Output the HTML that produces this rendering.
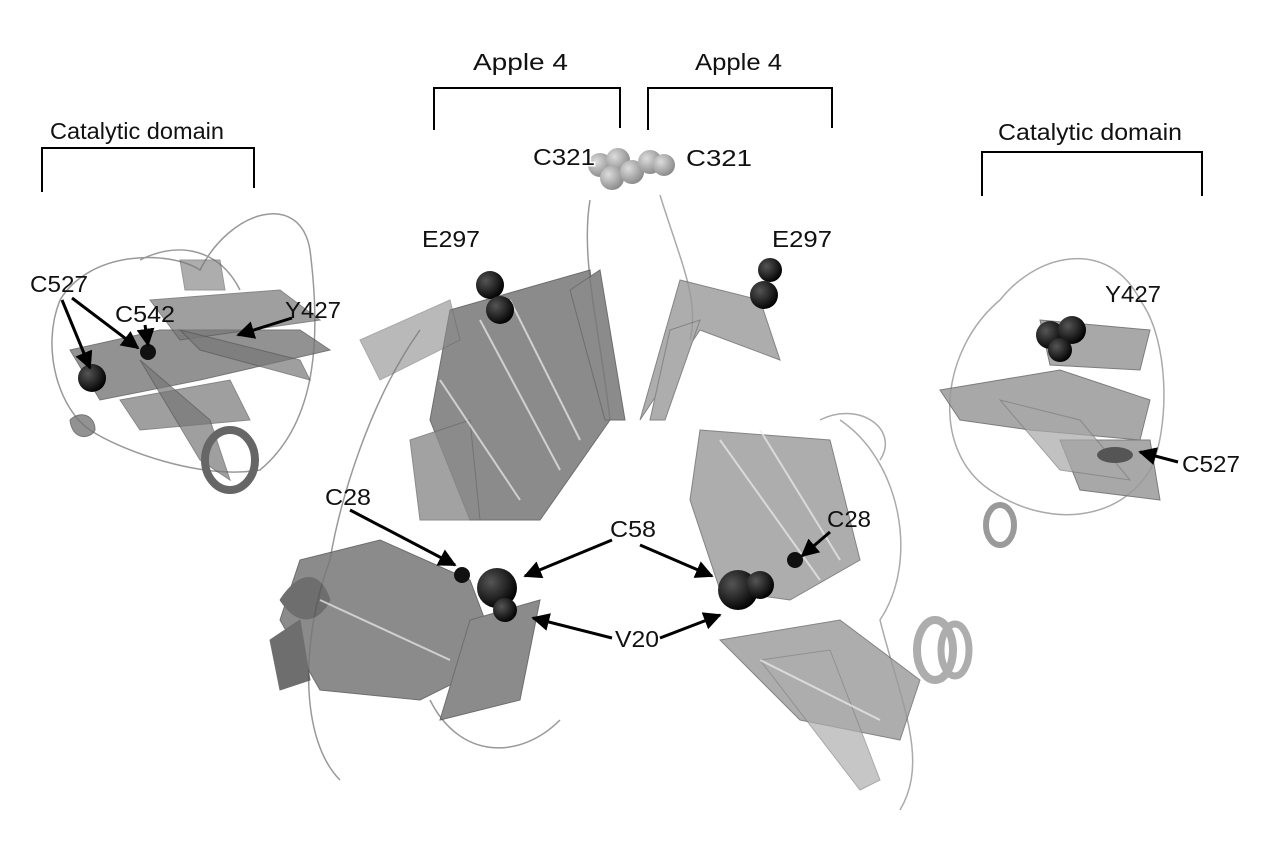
<!DOCTYPE html>
<html><head><meta charset="utf-8"><style>
html,body{margin:0;padding:0;background:#fff;}
svg{display:block;}
text{font-family:"Liberation Sans",sans-serif;font-size:23px;fill:#111;}
</style></head><body>
<svg width="1280" height="846" viewBox="0 0 1280 846" xmlns="http://www.w3.org/2000/svg">
<defs>
<marker id="ah" viewBox="0 0 10 10" refX="9" refY="5" markerWidth="6" markerHeight="6" orient="auto"><path d="M0,0 L10,5 L0,10 z" fill="#000"/></marker>
<radialGradient id="dk" cx="0.35" cy="0.35" r="0.7"><stop offset="0" stop-color="#555"/><stop offset="1" stop-color="#000"/></radialGradient>
<radialGradient id="lt" cx="0.35" cy="0.35" r="0.7"><stop offset="0" stop-color="#ddd"/><stop offset="1" stop-color="#888"/></radialGradient>
</defs>

<g fill="none" stroke="#000" stroke-width="2">
<path d="M42,192 V148 H254 V188"/>
<path d="M434,130 V88 H620 V128"/>
<path d="M648,130 V88 H832 V128"/>
<path d="M982,196 V152 H1202 V196"/>
</g>

<!-- left catalytic domain -->
<g fill="none" stroke="#999" stroke-width="1.5">
<path d="M60,300 C90,250 170,250 200,270 C230,210 300,190 310,250 C320,330 320,420 260,470 C200,480 120,450 90,430 C60,410 40,350 60,300"/>
<path d="M140,260 C180,240 220,250 240,290"/>
</g>
<g fill="#777" stroke="#555" stroke-width="1">
<path d="M70,350 L160,330 L300,330 L330,350 L200,380 L100,400 Z" opacity="0.8"/>
<path d="M150,300 L280,290 L320,320 L180,340 Z" opacity="0.7"/>
<path d="M120,400 L230,380 L250,420 L140,430 Z" opacity="0.7"/>
<path d="M180,260 L220,260 L225,290 L185,290 Z" opacity="0.6"/>
<path d="M140,360 L210,420 L230,480 L200,460 Z" opacity="0.7"/>
<path d="M180,330 L300,360 L310,380 L200,350 Z" opacity="0.7"/>
<ellipse cx="230" cy="460" rx="25" ry="30" fill="none" stroke="#666" stroke-width="8"/>
<path d="M70,420 C80,410 95,415 95,430 C90,440 72,440 70,420" opacity="0.8"/>
</g>
<circle cx="92" cy="378" r="14" fill="url(#dk)"/>
<circle cx="148" cy="352" r="8" fill="#111"/>

<!-- central left protein -->
<g fill="none" stroke="#999" stroke-width="1.5">
<path d="M420,330 C370,400 340,500 330,560 C300,640 300,740 340,780"/>
<path d="M590,200 C580,260 600,330 610,420"/>
<path d="M430,700 C460,760 520,760 560,720"/>
</g>
<g fill="#777" stroke="#555" stroke-width="1" opacity="0.85">
<path d="M450,310 L590,270 L610,420 L540,520 L470,520 L430,420 Z"/>
<path d="M410,440 L470,420 L480,520 L420,520 Z" opacity="0.8"/>
<path d="M300,560 L380,540 L470,580 L500,660 L420,700 L320,690 L280,620 Z"/>
<path d="M470,620 L540,600 L520,700 L440,720 Z"/>
<path d="M280,600 C300,570 320,570 330,600 C320,620 300,630 280,600" fill="#555"/>
<path d="M570,290 L600,270 L625,420 L605,420 Z"/>
<path d="M360,340 L450,300 L460,340 L380,380 Z" opacity="0.6"/>
<path d="M270,640 L300,620 L310,680 L280,690 Z" fill="#555"/>
</g>
<g stroke="#eee" stroke-width="2" fill="none" opacity="0.7">
<path d="M480,320 L560,470"/><path d="M510,300 L580,440"/><path d="M320,600 L450,660"/><path d="M440,380 L520,500"/>
</g>
<circle cx="490" cy="285" r="14" fill="url(#dk)"/>
<circle cx="500" cy="310" r="14" fill="url(#dk)"/>
<circle cx="497" cy="588" r="20" fill="url(#dk)"/>
<circle cx="505" cy="610" r="12" fill="url(#dk)"/>
<circle cx="462" cy="575" r="8" fill="#111"/>

<!-- central right protein -->
<g fill="none" stroke="#aaa" stroke-width="1.5">
<path d="M660,195 C680,260 700,300 690,340"/>
<path d="M840,420 C900,460 920,560 880,620 C900,700 930,760 900,810"/>
<path d="M820,420 C860,400 900,430 880,460"/>
</g>
<g fill="#999" stroke="#666" stroke-width="1" opacity="0.8">
<path d="M640,420 L680,280 L760,300 L780,360 L700,330 Z"/>
<path d="M650,420 L670,330 L700,320 L665,420 Z"/>
<path d="M700,430 L830,440 L860,560 L790,600 L720,590 L690,500 Z"/>
<path d="M720,640 L840,620 L920,680 L900,740 L800,720 Z"/>
<path d="M760,660 L830,650 L880,780 L860,790 Z" opacity="0.7"/>
<ellipse cx="935" cy="650" rx="18" ry="30" fill="none" stroke="#999" stroke-width="8"/>
<ellipse cx="955" cy="650" rx="14" ry="26" fill="none" stroke="#999" stroke-width="7"/>
</g>
<g stroke="#eee" stroke-width="2" fill="none" opacity="0.7">
<path d="M720,440 L820,580"/><path d="M760,430 L840,560"/><path d="M760,660 L880,720"/>
</g>
<circle cx="770" cy="270" r="12" fill="url(#dk)"/>
<circle cx="764" cy="295" r="14" fill="url(#dk)"/>
<circle cx="738" cy="590" r="20" fill="url(#dk)"/>
<circle cx="760" cy="585" r="14" fill="url(#dk)"/>
<circle cx="795" cy="560" r="8" fill="#111"/>

<g>
<circle cx="600" cy="165" r="12" fill="url(#lt)"/>
<circle cx="618" cy="160" r="12" fill="url(#lt)"/>
<circle cx="612" cy="178" r="12" fill="url(#lt)"/>
<circle cx="632" cy="172" r="12" fill="url(#lt)"/>
<circle cx="650" cy="162" r="12" fill="url(#lt)"/>
<circle cx="664" cy="165" r="11" fill="url(#lt)"/>
</g>

<!-- right catalytic domain -->
<g fill="none" stroke="#aaa" stroke-width="1.5">
<path d="M1000,300 C1040,250 1110,240 1140,300 C1170,340 1170,430 1150,470 C1120,520 1050,530 990,490 C930,450 940,350 1000,300"/>
</g>
<g fill="#999" stroke="#666" stroke-width="1" opacity="0.85">
<path d="M940,390 L1060,370 L1150,400 L1140,440 L1030,430 L960,420 Z"/>
<path d="M1040,320 L1150,330 L1140,370 L1050,365 Z"/>
<path d="M1060,440 L1150,440 L1160,500 L1080,490 Z"/>
<path d="M1000,400 L1080,420 L1130,480 L1060,470 Z" opacity="0.7"/>
<ellipse cx="1000" cy="525" rx="14" ry="20" fill="none" stroke="#888" stroke-width="6"/>
</g>
<circle cx="1050" cy="335" r="14" fill="url(#dk)"/>
<circle cx="1072" cy="330" r="14" fill="url(#dk)"/>
<circle cx="1060" cy="350" r="12" fill="url(#dk)"/>
<ellipse cx="1115" cy="455" rx="18" ry="8" fill="#555"/>

<g stroke="#000" stroke-width="3" marker-end="url(#ah)">
<line x1="62" y1="300" x2="90" y2="368"/>
<line x1="72" y1="298" x2="138" y2="348"/>
<line x1="145" y1="325" x2="148" y2="345"/>
<line x1="292" y1="318" x2="238" y2="335"/>
<line x1="350" y1="510" x2="455" y2="565"/>
<line x1="612" y1="540" x2="525" y2="576"/>
<line x1="640" y1="545" x2="712" y2="576"/>
<line x1="612" y1="638" x2="533" y2="618"/>
<line x1="660" y1="638" x2="720" y2="615"/>
<line x1="830" y1="532" x2="802" y2="556"/>
<line x1="1178" y1="462" x2="1140" y2="452"/>
</g>

<text x="50" y="139" textLength="174" lengthAdjust="spacingAndGlyphs">Catalytic domain</text>
<text x="473" y="70" textLength="95" lengthAdjust="spacingAndGlyphs">Apple 4</text>
<text x="695" y="70" textLength="87" lengthAdjust="spacingAndGlyphs">Apple 4</text>
<text x="998" y="140" textLength="184" lengthAdjust="spacingAndGlyphs">Catalytic domain</text>
<text x="533" y="165" textLength="62" lengthAdjust="spacingAndGlyphs" stroke="#fff" stroke-width="3" paint-order="stroke">C321</text>
<text x="686" y="166" textLength="66" lengthAdjust="spacingAndGlyphs">C321</text>
<text x="422" y="247" textLength="58" lengthAdjust="spacingAndGlyphs">E297</text>
<text x="772" y="247" textLength="60" lengthAdjust="spacingAndGlyphs">E297</text>
<text x="30" y="292" textLength="58" lengthAdjust="spacingAndGlyphs">C527</text>
<text x="115" y="322" textLength="60" lengthAdjust="spacingAndGlyphs">C542</text>
<text x="285" y="318" textLength="56" lengthAdjust="spacingAndGlyphs">Y427</text>
<text x="1105" y="302" textLength="56" lengthAdjust="spacingAndGlyphs">Y427</text>
<text x="1182" y="472" textLength="58" lengthAdjust="spacingAndGlyphs">C527</text>
<text x="325" y="505" textLength="46" lengthAdjust="spacingAndGlyphs">C28</text>
<text x="610" y="537" textLength="46" lengthAdjust="spacingAndGlyphs">C58</text>
<text x="615" y="647" textLength="44" lengthAdjust="spacingAndGlyphs">V20</text>
<text x="827" y="527" textLength="44" lengthAdjust="spacingAndGlyphs">C28</text>
</svg>
</body></html>
